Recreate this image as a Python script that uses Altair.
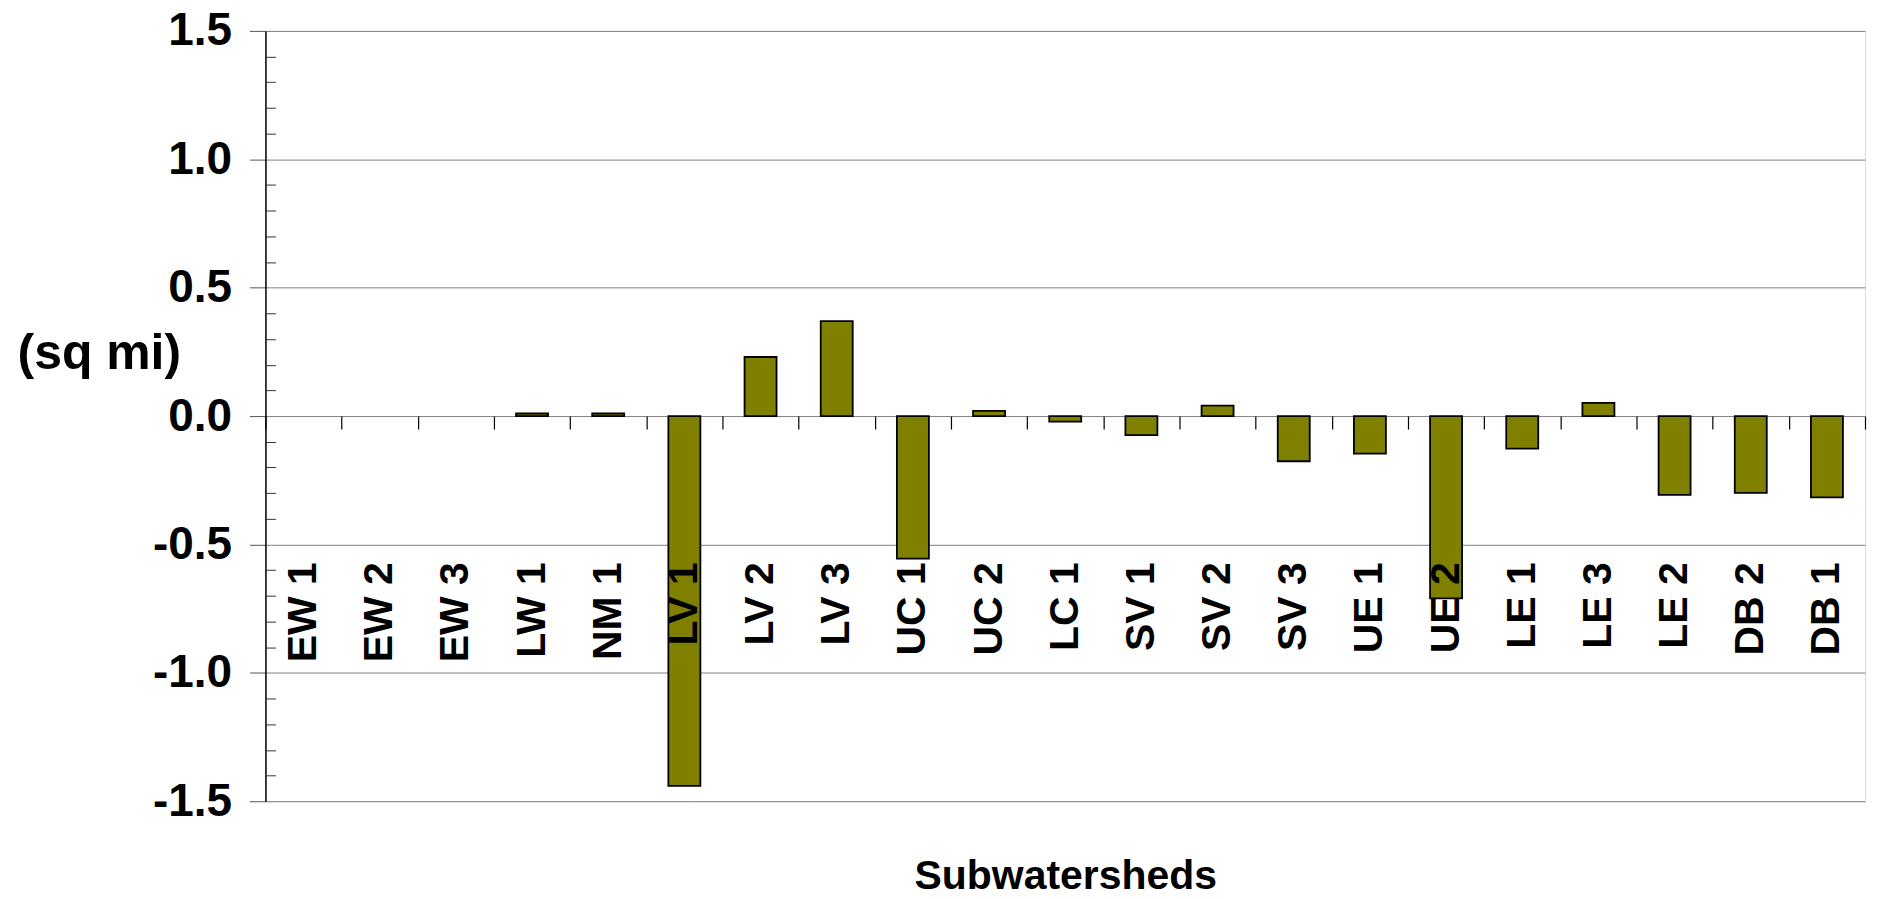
import altair as alt
import pandas as pd

categories = ["EW 1", "EW 2", "EW 3", "LW 1", "NM 1", "LV 1", "LV 2", "LV 3",
              "UC 1", "UC 2", "LC 1", "SV 1", "SV 2", "SV 3", "UE 1", "UE 2",
              "LE 1", "LE 3", "LE 2", "DB 2", "DB 1"]
values = [0.0, 0.0, 0.0, 0.01, 0.01, -1.44, 0.23, 0.37,
          -0.555, 0.02, -0.022, -0.074, 0.041, -0.176, -0.146, -0.71,
          -0.127, 0.051, -0.307, -0.299, -0.317]
major_ticks = [-1.5, -1.0, -0.5, 0.0, 0.5, 1.0, 1.5]
minor_ticks = [-1.4, -1.3, -1.2, -1.1, -0.9, -0.8, -0.7, -0.6, -0.4, -0.3, -0.2, -0.1,
               0.1, 0.2, 0.3, 0.4, 0.6, 0.7, 0.8, 0.9, 1.1, 1.2, 1.3, 1.4]

df = pd.DataFrame({"Subwatershed": categories, "Change": values})

W, H = 1603, 772
FONT = "Liberation Sans"

x_scale = alt.Scale(domain=categories, paddingInner=0, paddingOuter=0)
y_scale = alt.Scale(domain=[-1.5, 1.5], nice=False, zero=False)

x_axis = alt.Axis(
    title="Subwatersheds", orient="bottom", offset=-386, domain=False,
    tickBand="extent", ticks=True, tickSize=13, tickColor="#000000", tickWidth=1.2,
    labelAngle=-90, labelPadding=133, labelFont=FONT, labelFontSize=41,
    labelFontWeight="bold", labelColor="#000000", labelAlign="right",
    labelBaseline="middle", labelOverlap=False,
    titleFont=FONT, titleFontSize=41, titleFontWeight="bold", titleColor="#000000",
    titleX=W / 2, titleY=473, titleAlign="center", titleBaseline="alphabetic",
    grid=False, zindex=1)

base = alt.Chart(df).transform_filter("datum.Change != 0")

bars = base.mark_bar(width=alt.RelativeBandSize(0.42), color="#808000",
                     stroke="#000000", strokeWidth=1.8).encode(
    x=alt.X("Subwatershed:N", scale=x_scale, axis=x_axis),
    y=alt.Y("Change:Q", scale=y_scale, axis=alt.Axis(
        orient="left", values=major_ticks,
        labelExpr="(datum.value < 0 ? '-' : '') + format(abs(datum.value), '.1f')",
        domain=True, domainColor="#000000", domainWidth=1.5,
        ticks=True, tickSize=16, tickColor="#555555", tickWidth=1,
        grid=True, gridColor="#808080", gridWidth=1,
        labelFont=FONT, labelFontSize=46, labelFontWeight="bold", labelColor="#000000",
        labelPadding=18,
        title="(sq mi)", titleAngle=0, titleX=-167, titleY=338, titleAlign="center",
        titleBaseline="alphabetic", titleFont=FONT, titleFontSize=50,
        titleFontWeight="bold", titleColor="#000000")),
)

minor = base.mark_bar(width=alt.RelativeBandSize(0.42), opacity=0).encode(
    x=alt.X("Subwatershed:N", scale=x_scale, axis=x_axis),
    y=alt.Y("Change:Q", scale=y_scale, axis=alt.Axis(
        orient="right", offset=-W, values=minor_ticks, labels=False,
        domain=False, grid=False, ticks=True, tickSize=10,
        tickColor="#333333", tickWidth=1, title=None)),
)

chart = alt.layer(bars, minor).resolve_axis(y="independent").properties(
    width=W, height=H,
    padding={"left": 258, "top": 22, "right": 4, "bottom": 89},
    autosize=alt.AutoSizeParams(type="none"),
).configure_view(stroke="#222222", strokeWidth=1.5).configure(font=FONT)

chart.save("out.html", embed_options={"renderer": "svg", "actions": False})
